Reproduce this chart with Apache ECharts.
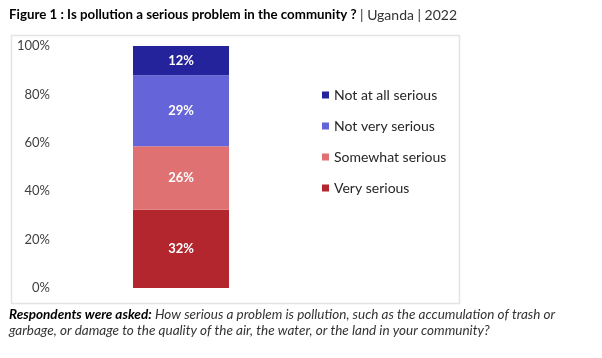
<!DOCTYPE html>
<html><head><meta charset="utf-8">
<script src="https://cdn.jsdelivr.net/npm/echarts@6/dist/echarts.min.js"></script>
<style>html,body{margin:0;padding:0;background:#fff}#c{width:602px;height:358px}</style>
</head><body><div id="c"></div>
<script>
const categories = ['Uganda 2022'];
const seriesNames = ['Very serious', 'Somewhat serious', 'Not very serious', 'Not at all serious'];
const seriesValues = [32, 26, 29, 12];
const seriesColors = ['#b3262e', '#e07173', '#6664d9', '#25239b'];
const tickLabels = ['0%', '20%', '40%', '60%', '80%', '100%'];

const total = seriesValues.reduce((a, b) => a + b, 0);
const font = "'Lato', 'Noto Sans', sans-serif";

const chart = echarts.init(document.getElementById('c'), null, {renderer: 'canvas'});
chart.setOption({
  animation: false,
  backgroundColor: '#fff',
  graphic: [
    {type: 'rect', left: 9, top: 33, shape: {width: 448, height: 268},
     style: {fill: 'none', stroke: '#e4e4e4', lineWidth: 1.5}},
    {type: 'text', left: 9, top: 8, style: {
      text: '{b|Figure 1 : Is pollution a serious problem in the community ?} {n|| Uganda | 2022}',
      rich: {
        b: {fontFamily: font, fontWeight: 'bold', fontSize: 13.3, fill: '#000'},
        n: {fontFamily: font, fontSize: 14, fill: '#333'}
      }}},
    {type: 'text', left: 9, top: 308, style: {
      text: '{b|Respondents were asked:} {i|How serious a problem is pollution, such as the accumulation of trash or}\n{i|garbage, or damage to the quality of the air, the water, or the land in your community?}',
      rich: {
        b: {fontFamily: font, fontWeight: 'bold', fontStyle: 'italic', fontSize: 13.5, fill: '#000', lineHeight: 16},
        i: {fontFamily: font, fontStyle: 'italic', fontSize: 13.5, fill: '#333', lineHeight: 16}
      }}}
  ],
  legend: {
    orient: 'vertical', left: 317, top: 82,
    data: seriesNames.slice().reverse(),
    icon: 'rect', itemWidth: 7, itemHeight: 7, itemGap: 15,
    textStyle: {fontFamily: font, fontSize: 14, color: '#262626', lineHeight: 16}
  },
  grid: {left: 60, width: 242, top: 46, bottom: 70},
  xAxis: {type: 'category', data: categories, show: false},
  yAxis: {
    type: 'value', min: 0, max: 100, interval: 20,
    axisLine: {show: false}, axisTick: {show: false}, splitLine: {show: false},
    axisLabel: {
      fontFamily: font, fontSize: 13, color: '#404040', margin: 10,
      formatter: v => tickLabels[Math.round(v / 20)]
    }
  },
  series: seriesNames.map((name, i) => ({
    name, type: 'bar', stack: 'total', barWidth: 96,
    itemStyle: {color: seriesColors[i]},
    label: {
      show: true, position: 'inside', color: '#fff', fontWeight: 'bold',
      fontFamily: font, fontSize: 13,
      formatter: () => seriesValues[i] + '%'
    },
    data: [seriesValues[i] / total * 100]
  }))
});
</script></body></html>
